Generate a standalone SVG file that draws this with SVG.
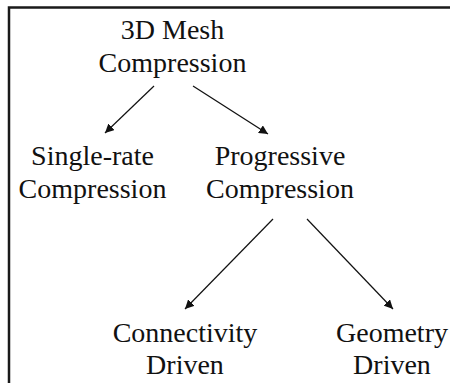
<svg xmlns="http://www.w3.org/2000/svg" width="450" height="383" viewBox="0 0 450 383">
  <style>
    .label { font-family: "Liberation Serif", "Times New Roman", serif; font-size: 28px; fill: #111; text-anchor: middle; }
    .edge { stroke: #111; stroke-width: 1.2; fill: none; marker-end: url(#arrow); }
    .frame { stroke: #1a1a1a; stroke-width: 2.5; fill: none; }
  </style>
  <defs>
    <marker id="arrow" viewBox="0 0 10 10" refX="10" refY="5" markerWidth="9" markerHeight="9" markerUnits="userSpaceOnUse" orient="auto">
      <path d="M0,0 L10,5 L0,10 Z" fill="#111"/>
    </marker>
  </defs>

  <!-- open frame: top and left edges only -->
  <path class="frame" d="M9,383 V7.5 H450"/>

  <g id="root">
    <text class="label" x="172.5" y="39">3D Mesh</text>
    <text class="label" x="172.5" y="72">Compression</text>
  </g>
  <g id="single-rate">
    <text class="label" x="92.5" y="165">Single-rate</text>
    <text class="label" x="92.5" y="198">Compression</text>
  </g>
  <g id="progressive">
    <text class="label" x="280" y="165">Progressive</text>
    <text class="label" x="280" y="198">Compression</text>
  </g>
  <g id="connectivity">
    <text class="label" x="185" y="341.5">Connectivity</text>
    <text class="label" x="185" y="373.5">Driven</text>
  </g>
  <g id="geometry">
    <text class="label" x="392" y="341.5">Geometry</text>
    <text class="label" x="392" y="373.5">Driven</text>
  </g>

  <g id="connectors">
    <line class="edge" x1="154" y1="86" x2="105" y2="133"/>
    <line class="edge" x1="193" y1="86" x2="268" y2="134"/>
    <line class="edge" x1="273" y1="219" x2="185" y2="309"/>
    <line class="edge" x1="307" y1="219" x2="393" y2="309"/>
  </g>
</svg>
